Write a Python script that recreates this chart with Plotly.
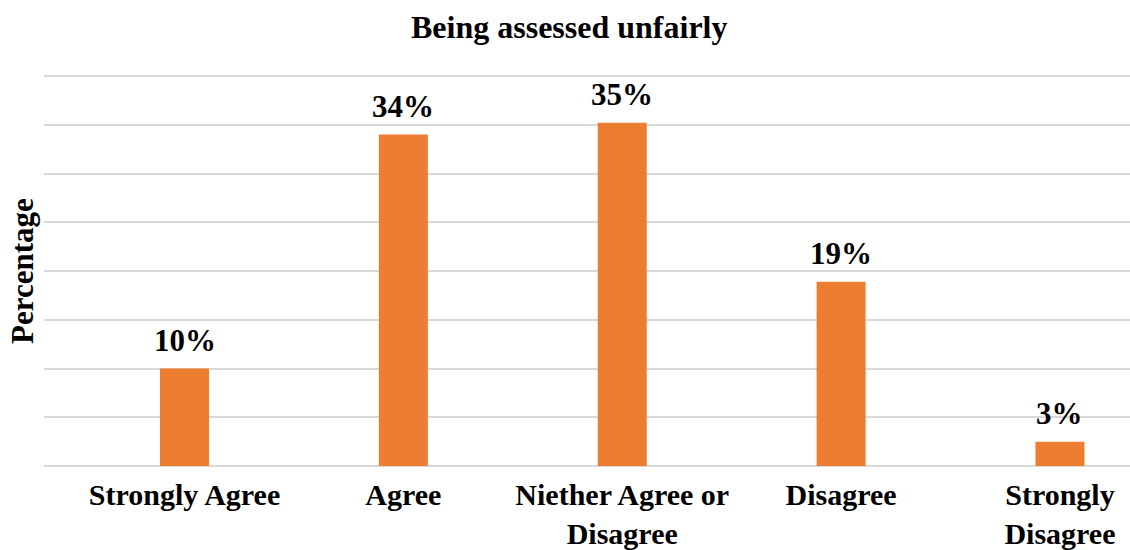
import plotly.graph_objects as go

categories = ["Strongly Agree", "Agree", "Niether Agree or<br>Disagree", "Disagree", "Strongly<br>Disagree"]
values = [10, 34, 35.2, 18.9, 2.5]
labels = ["10%", "34%", "35%", "19%", "3%"]
title = "Being assessed unfairly"
y_title = "Percentage"

FONT = "Liberation Serif"
x_idx = list(range(len(categories)))

fig = go.Figure(go.Bar(
    x=x_idx, y=values, width=0.224,
    marker=dict(color="#ED7D31", line=dict(width=0)),
    hovertext=labels,
))

TOP = 73
BOT = 84
plot_h = 550 - TOP - BOT
plot_w = 1130 - 44
ymax = plot_h / 9.75

annotations = [
    dict(x=i, y=v, xref="x", yref="y", text="<b>%s</b>" % t, showarrow=False,
         yanchor="bottom", xanchor="center", yshift=9,
         font=dict(family=FONT, size=31, color="black"))
    for i, v, t in zip(x_idx, values, labels)
]
base = 550 - BOT
annotations.append(dict(text="<b>%s</b>" % title, xref="paper", yref="paper",
                        x=(569 - 44) / plot_w, y=(base - 27) / plot_h,
                        xanchor="center", yanchor="middle",
                        font=dict(family=FONT, size=32, color="black"), showarrow=False))
annotations.append(dict(text="<b>%s</b>" % y_title, xref="paper", yref="paper",
                        x=(22 - 44) / plot_w, y=(base - 271) / plot_h,
                        xanchor="center", yanchor="middle", textangle=-90,
                        font=dict(family=FONT, size=31, color="black"), showarrow=False))

fig.update_layout(
    width=1130, height=550,
    margin=dict(l=44, r=0, t=TOP, b=BOT),
    paper_bgcolor="white", plot_bgcolor="white",
    showlegend=False,
    font=dict(family=FONT, color="black"),
    xaxis=dict(range=[-0.642, 4.32], tickmode="array", tickvals=x_idx,
               ticktext=["<b>%s</b>" % c for c in categories],
               tickfont=dict(family=FONT, size=30, color="black"),
               showgrid=False, zeroline=False, showline=False, ticks="",
               ticklabelstandoff=8),
    yaxis=dict(range=[0, ymax], tickmode="array", tickvals=[0, 5, 10, 15, 20, 25, 30, 35, 40],
               showticklabels=False, showgrid=True,
               gridcolor="#D9D9D9", gridwidth=1.5, zeroline=True,
               zerolinecolor="#D9D9D9", zerolinewidth=1.5, showline=False, ticks=""),
    annotations=annotations,
)

fig.write_html("out.html")
